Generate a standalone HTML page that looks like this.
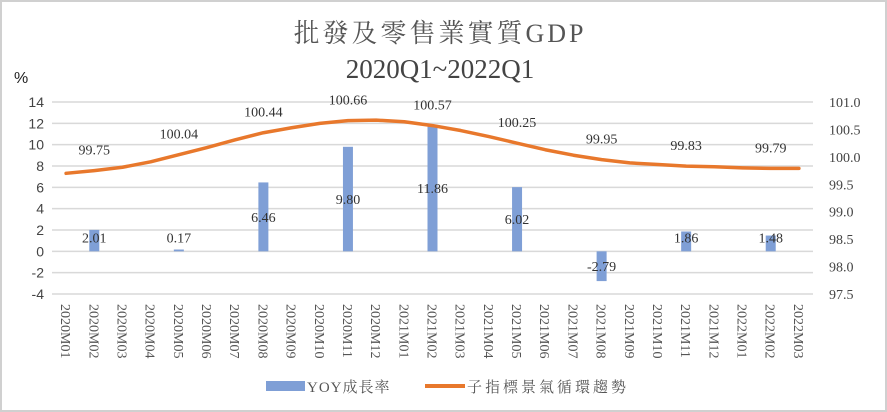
<!DOCTYPE html>
<html><head><meta charset="utf-8"><style>
body{margin:0;background:#fff}
svg{display:block;font-family:"Liberation Serif","Noto Serif CJK TC","Noto Serif CJK SC",serif}
</style></head><body>
<svg id="c" width="887" height="412" viewBox="0 0 887 412">
<rect x="1" y="1" width="885" height="410" fill="#fff" stroke="#d0d0d0" stroke-width="2"/>
<text x="440" y="42" text-anchor="middle" font-size="26" letter-spacing="3" fill="#555">批發及零售業實質GDP</text>
<text x="440" y="78" text-anchor="middle" font-size="27" fill="#444">2020Q1~2022Q1</text>
<text x="14" y="83" font-size="16" fill="#222" font-family="Liberation Sans,sans-serif">%</text>
<g id="grid"></g><g id="bars"></g><g id="line"></g><g id="labels"></g><g id="axes"></g>
<g>
<rect x="266" y="381" width="39" height="10" fill="#7f9fd6"/>
<text x="307" y="392" font-size="15" fill="#555" letter-spacing="1">YOY成長率</text>
<line x1="425" y1="386" x2="465" y2="386" stroke="#e8782c" stroke-width="4"/>
<text x="467" y="392" font-size="15" fill="#555" letter-spacing="3">子指標景氣循環趨勢</text>
</g>
</svg>
<script>
const categories=["2020M01","2020M02","2020M03","2020M04","2020M05","2020M06","2020M07","2020M08","2020M09","2020M10","2020M11","2020M12","2021M01","2021M02","2021M03","2021M04","2021M05","2021M06","2021M07","2021M08","2021M09","2021M10","2021M11","2021M12","2022M01","2022M02","2022M03"];
const yoyValues=[null,2.01,null,null,0.17,null,null,6.46,null,null,9.80,null,null,11.86,null,null,6.02,null,null,-2.79,null,null,1.86,null,null,1.48,null];
const trendValues=[99.70,99.75,99.81,99.91,100.04,100.17,100.31,100.44,100.53,100.61,100.66,100.67,100.64,100.57,100.48,100.37,100.25,100.13,100.03,99.95,99.89,99.86,99.83,99.82,99.80,99.79,99.79];
const trendLabelIdx=[1,4,7,10,13,16,19,22,25];
const leftTicks=[14,12,10,8,6,4,2,0,-2,-4];
const rightTicks=["101.0","100.5","100.0","99.5","99.0","98.5","98.0","97.5"];
const NS="http://www.w3.org/2000/svg";
const L=52,R=813,T=102,B=294;
const step=(R-L)/categories.length;
const x=i=>L+step*(i+0.5);
const yL=v=>T+(14-v)/18*(B-T);
const yR=v=>T+(101-v)/3.5*(B-T);
function mk(tag,attrs,parent,txt){const e=document.createElementNS(NS,tag);for(const k in attrs)e.setAttribute(k,attrs[k]);if(txt!=null)e.textContent=txt;document.getElementById(parent).appendChild(e);return e;}
leftTicks.forEach(v=>{
 const g=mk('line',{x1:L,x2:R,y1:yL(v),y2:yL(v),stroke:'#d9d9d9','stroke-width':1.5},'grid');
 
 
 const t=mk('text',{x:44,y:yL(v)+5,'text-anchor':'end','font-size':14,fill:'#444','font-family':'Liberation Sans,sans-serif'},'axes',String(v));
 
 
});
rightTicks.forEach(s=>{
 const t=mk('text',{x:829,y:yR(parseFloat(s))+5,'font-size':14,fill:'#444'},'axes',s);
 
 
});
categories.forEach((c,i)=>{
 const t=mk('text',{x:0,y:0,'font-size':14,fill:'#555',transform:`translate(${x(i)-5},${B+10}) rotate(90)`},'axes',c);
 
 
});
yoyValues.forEach((v,i)=>{
 if(v==null)return;
 const y0=yL(0),y1=yL(v);
 const b=mk('rect',{x:x(i)-5,y:Math.min(y0,y1),width:10,height:Math.max(1.5,Math.abs(y1-y0)),fill:'#7f9fd6'},'bars');
 
 
 const ly=v>=0?Math.min((y0+y1)/2,y0-14):(y0+y1)/2;
 const t=mk('text',{x:x(i),y:ly+5,'text-anchor':'middle','font-size':14,fill:'#333'},'labels',v.toFixed(2));
 
 
});
let d='';
trendValues.forEach((v,i)=>{d+=(i?'L':'M')+x(i)+','+yR(v);});
const p=mk('path',{d:d,fill:'none',stroke:'#e8782c','stroke-width':3.5,'stroke-linejoin':'round','stroke-linecap':'round'},'line');


trendLabelIdx.forEach(i=>{
 const t=mk('text',{x:x(i),y:yR(trendValues[i])-16,'text-anchor':'middle','font-size':14,fill:'#333'},'labels',trendValues[i].toFixed(2));
 
 
});
</script>
</body></html>
